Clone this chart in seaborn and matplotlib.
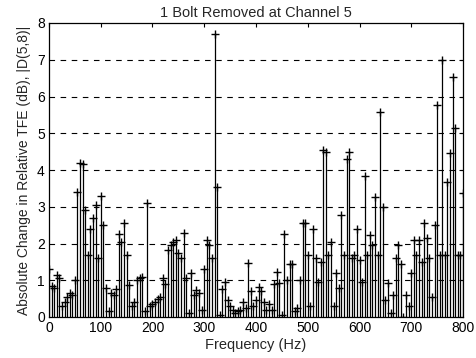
import matplotlib
matplotlib.use("Agg")
import matplotlib.pyplot as plt
import seaborn as sns
import numpy as np
import pandas as pd

title = "1 Bolt Removed at Channel 5"
xlabel = "Frequency (Hz)"
ylabel = "Absolute Change in Relative TFE (dB), |D(5,8)|"
xticks = [0, 100, 200, 300, 400, 500, 600, 700, 800]
yticks = [0, 1, 2, 3, 4, 5, 6, 7, 8]

freq = [
    0, 5, 10, 15, 20, 25, 30, 35, 40, 45,
    50, 55, 60, 65, 70, 75, 80, 85, 90, 95,
    100, 105, 110, 115, 120, 125, 130, 135, 140, 145,
    150, 155, 160, 165, 170, 175, 180, 185, 190, 195,
    200, 205, 210, 215, 220, 225, 230, 235, 240, 245,
    250, 255, 260, 265, 270, 275, 280, 285, 290, 295,
    300, 305, 310, 315, 320, 325, 330, 335, 340, 345,
    350, 355, 360, 365, 370, 375, 380, 385, 390, 395,
    400, 405, 410, 415, 420, 425, 430, 435, 440, 445,
    450, 455, 460, 465, 470, 475, 480, 485, 490, 495,
    500, 505, 510, 515, 520, 525, 530, 535, 540, 545,
    550, 555, 560, 565, 570, 575, 580, 585, 590, 595,
    600, 605, 610, 615, 620, 625, 630, 635, 640, 645,
    650, 655, 660, 665, 670, 675, 680, 685, 690, 695,
    700, 705, 710, 715, 720, 725, 730, 735, 740, 745,
    750, 755, 760, 765, 770, 775, 780, 785, 790, 795,
    800,
]
change_db = [
    1.30, 0.85, 0.80, 1.15, 1.05, 0.30, 0.40, 0.55, 0.65, 0.60,
    1.00, 3.40, 4.20, 4.15, 2.90, 1.70, 2.40, 2.70, 3.05, 1.60,
    3.30, 2.50, 0.80, 0.15, 0.65, 0.60, 0.75, 2.25, 2.05, 2.55,
    1.70, 0.87, 0.30, 0.40, 1.00, 1.06, 1.10, 0.15, 3.10, 0.30,
    0.35, 0.40, 0.50, 0.55, 1.05, 0.90, 1.82, 1.96, 2.05, 2.10,
    1.75, 1.60, 2.28, 1.06, 0.12, 1.20, 0.60, 0.73, 0.65, 0.20,
    1.30, 2.10, 1.95, 1.60, 7.70, 3.55, 0.05, 0.75, 0.95, 0.45,
    0.30, 0.20, 0.10, 0.15, 0.20, 0.40, 0.25, 1.48, 0.70, 0.30,
    0.45, 0.82, 0.70, 0.40, 0.20, 0.35, 0.20, 0.90, 1.23, 0.93,
    0.05, 2.27, 1.00, 1.45, 1.45, 0.15, 0.25, 1.00, 2.55, 2.55,
    1.70, 0.30, 2.40, 1.60, 0.95, 1.50, 4.55, 4.50, 1.70, 2.05,
    0.30, 1.20, 0.80, 2.78, 1.70, 4.30, 4.50, 1.60, 1.70, 2.40,
    1.55, 0.95, 3.85, 1.70, 2.23, 1.95, 3.27, 1.70, 5.58, 3.00,
    0.45, 0.93, 0.10, 0.60, 1.60, 1.95, 1.45, 0.00, 0.60, 0.30,
    1.20, 2.10, 1.70, 2.10, 1.50, 2.55, 2.15, 1.60, 0.55, 2.50,
    5.77, 1.70, 7.00, 1.70, 3.68, 4.46, 6.52, 5.14, 1.70, 1.70,
    3.37,
]

df = pd.DataFrame({"freq": freq, "change": change_db})

sns.set_style("white")
plt.rcParams["font.family"] = ["Liberation Sans", "DejaVu Sans"]

fig = plt.figure(figsize=(4.77, 3.58), dpi=100)
ax = fig.add_axes([49 / 477, 1 - 317 / 358, (463 - 49) / 477, (317 - 23) / 358])

# horizontal dashed grid
for yv in yticks[1:-1]:
    ax.axhline(yv, color="black", lw=0.8, ls=(0, (5, 5)), zorder=0)

ax.vlines(df["freq"], 0, df["change"], color="black", lw=0.9, zorder=2)
sns.scatterplot(data=df, x="freq", y="change", marker="+", color="black",
                s=36, linewidth=1.0, ax=ax, zorder=3, legend=False)

ax.set_xlim(0, 800)
ax.set_ylim(0, 8)
ax.set_xticks(xticks)
ax.set_yticks(yticks)
ax.set_xticklabels([str(v) for v in xticks])
ax.set_yticklabels([str(v) for v in yticks])
ax.tick_params(direction="in", length=3, width=0.8, labelsize=10,
               top=True, right=True, colors="black", pad=3)
for s in ax.spines.values():
    s.set_visible(True)
    s.set_color("black")
    s.set_linewidth(0.9)

ax.set_title(title, fontsize=10.5, pad=4)
ax.set_xlabel(xlabel, fontsize=10.5, labelpad=2)
ax.set_ylabel(ylabel, fontsize=10, labelpad=4)

fig.savefig("out.png", dpi=100)
